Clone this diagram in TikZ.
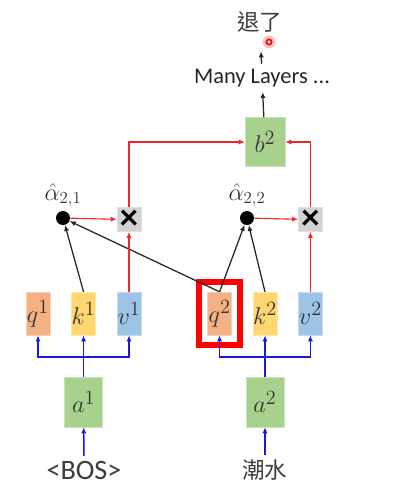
\documentclass[tikz,border=0pt]{standalone}
\usepackage{fontspec}
\setmainfont{Carlito}
\newfontfamily\cjk{Noto Sans CJK TC}
\usetikzlibrary{positioning, arrows.meta}
\definecolor{QOrange}{RGB}{244,177,131}
\definecolor{KYellow}{RGB}{255,214,112}
\definecolor{VBlue}{RGB}{157,195,230}
\definecolor{AGreen}{RGB}{169,209,142}
\definecolor{MulGray}{RGB}{210,210,210}
\definecolor{TextGray}{RGB}{60,60,60}
\definecolor{LineRed}{RGB}{240,40,40}
\definecolor{LineBlue}{RGB}{25,25,220}

\begin{document}
\begin{tikzpicture}[
    vec/.style={rectangle, inner sep=0pt, minimum width=0.6cm, minimum height=1.075cm, font=\fontsize{19}{21}\selectfont, text=black!80},
    qvec/.style={vec, fill=QOrange, draw=QOrange!60!white},
    kvec/.style={vec, fill=KYellow, draw=KYellow!60!white},
    vvec/.style={vec, fill=VBlue, draw=VBlue!60!white},
    avec/.style={vec, fill=AGreen, draw=AGreen!60!white, minimum width=0.95cm, minimum height=1.25cm},
    mul/.style={rectangle, fill=MulGray, draw=MulGray!70!white, inner sep=0pt, minimum size=0.6cm, font=\fontsize{26}{26}\selectfont\bfseries},
    score/.style={circle, fill=black, inner sep=0pt, minimum size=0.35cm},
    scorelabel/.style={font=\fontsize{17}{19}\selectfont, text=black!80, inner sep=0pt},
    hilite/.style={rectangle, draw=red, line width=4pt, minimum width=1.025cm, minimum height=1.575cm},
    txt/.style={font=\fontsize{16}{18}\selectfont, text=TextGray},
    blk/.style={-{Latex[length=1.5mm, width=1.3mm]}, line width=0.9pt, black!85},
    redarrow/.style={-{Latex[length=1.5mm, width=1.3mm]}, line width=0.8pt, LineRed},
    bluearrow/.style={-{Latex[length=1.5mm, width=1.3mm]}, line width=1pt, LineBlue},
    bus/.style={line width=1pt, LineBlue}
  ]
    \useasboundingbox (0,0) rectangle (10.175,-12.225);

    % Tokens
    \node[txt, font=\fontsize{20}{22}\selectfont] (bos) at (2.1,-11.75) {<BOS>};
    \node[txt] (tok) at (6.625,-11.75) {\cjk 潮水};

    % Embeddings
    \node[avec] (a1) at (2.09,-10.05) {$a^1$};
    \node[avec] (a2) at (6.625,-10.05) {$a^2$};

    % Query, key, value
    \node[qvec] (q1) at (0.95,-7.84) {$q^1$};
    \node[kvec] (k1) at (2.09,-7.84) {$k^1$};
    \node[vvec] (v1) at (3.225,-7.84) {$v^1$};
    \node[qvec] (q2) at (5.49,-7.84) {$q^2$};
    \node[kvec] (k2) at (6.625,-7.84) {$k^2$};
    \node[vvec] (v2) at (7.76,-7.84) {$v^2$};
    \node[hilite] (hl) at (q2) {};

    % Attention scores and products
    \node[score] (s1) at (1.575,-5.45) {};
    \node[score] (s2) at (6.175,-5.45) {};
    \node[scorelabel, above=0.08cm of s1] (l1) {$\hat{\alpha}_{2,1}$};
    \node[scorelabel, above=0.08cm of s2] (l2) {$\hat{\alpha}_{2,2}$};
    \node[mul] (m1) at (3.225,-5.49) {×};
    \node[mul] (m2) at (7.76,-5.49) {×};

    % Output
    \node[avec, minimum width=1cm, minimum height=1.225cm] (b2) at (6.625,-3.55) {$b^2$};
    \node[font=\fontsize{16}{18}\selectfont, text=black!85] (ml) at (6.55,-1.95) {Many Layers ...};
    \node[font=\fontsize{16}{18}\selectfont, text=TextGray] (out) at (6.5,-0.55) {\cjk 退了};
    \node[circle, fill=red!25, inner sep=0pt, minimum size=0.32cm] (laser) at (6.725,-1.05) {};
    \node[circle, draw=red, fill=white, line width=1.2pt, inner sep=0pt, minimum size=0.13cm] at (laser) {};

    % Token to embedding
    \draw[bluearrow] (bos) -- (a1);
    \draw[bluearrow] (tok) -- (a2);

    % Embedding to q, k, v
    \coordinate (bus1) at (2.09,-8.925);
    \coordinate (bus2) at (6.625,-8.925);
    \draw[bus] (a1.north) -- (bus1);
    \draw[bluearrow] (bus1) -| (q1.south);
    \draw[bluearrow] (bus1) -- (k1.south);
    \draw[bluearrow] (bus1) -| (v1.south);
    \draw[bus] (a2.north) -- (bus2);
    \draw[bluearrow] (bus2) -| (q2.south);
    \draw[bluearrow] (bus2) -- (k2.south);
    \draw[bluearrow] (bus2) -| (v2.south);

    % Query against keys
    \draw[blk] (k1.north) -- (s1);
    \draw[blk] (q2.north) -- (s1);
    \draw[blk] (q2.north) -- (s2);
    \draw[blk] (k2.north) -- (s2);

    % Weighted values
    \draw[redarrow] (s1) -- (m1);
    \draw[redarrow] (s2) -- (m2);
    \draw[redarrow] (v1) -- (m1);
    \draw[redarrow] (v2) -- (m2);
    \draw[redarrow] (m1.north) |- (b2.west);
    \draw[redarrow] (m2.north) |- (b2.east);

    % Upwards
    \draw[blk] (b2) -- (ml);
    \draw[blk, shorten >=0.35cm] (ml) -- (out);
  \end{tikzpicture}
\end{document}
